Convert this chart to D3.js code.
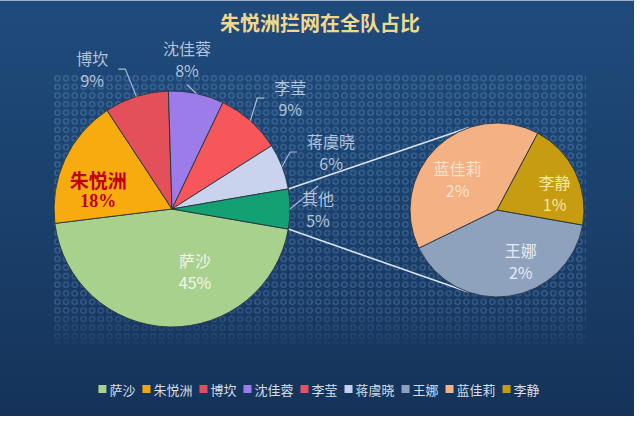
<!DOCTYPE html>
<html><head><meta charset="utf-8">
<script src="https://cdn.jsdelivr.net/npm/d3@7"></script>
<style>html,body{margin:0;padding:0;background:#fff;} svg{display:block}</style>
</head><body>
<svg id="chart" width="640" height="421"></svg>
<script>
// ---------- data ----------
const titleText = "朱悦洲拦网在全队占比";
const mainNames = ["萨沙","朱悦洲","博坎","沈佳蓉","李莹","蒋虞晓"];
const mainValues = [45.4, 17.7, 8.8, 7.6, 8.9, 6.3];
const otherName = "其他";
const otherNames = ["王娜","蓝佳莉","李静"];
const otherValues = [2.18, 2.18, 1.09];
const legendNames = mainNames.concat(otherNames);

// ---------- styles / layout ----------
const W = 640, H = 421;
const FONT = "'Noto Sans CJK SC','Noto Sans',sans-serif";
const mainOuter = ["#a9d18e","#f7ab0e","#e3505a","#9b7ce8","#f7565b","#c9d3ee","#13a073"];
const mainInner = ["#a9d18e","#d4912c","#c44e5c","#b25ec4","#bf509a","#c1c2ec","#13a073"];
const secColors = ["#8fa2bd","#f4b183","#c89c10"];
const legendColors = ["#a9d18e","#f2a516","#e0505a","#9b7ce8","#e8506a","#c5d0ec","#8fa2bd","#f4b183","#c89c10"];
const mainC = [172, 209], mainR = 118;
const secC = [497, 210], secR = 87;
const secStartDeg = 100;
// label placement: [angle offset from slice mid (deg), distance in radius units, kind]
const mainLabelPos = [
  [-21.8, 0.56, "in"], [-10.4, 0.645, "hero"], [-12.1, 1.365, "elbow"],
  [-6.2, 1.28, "short"], [5.3, 1.373, "elbow"], [1.4, 1.432, "elbow"], [0, 1.237, "top"]
];
const secLabelPos = [[-17, 0.645], [-8, 0.575], [9.6, 0.69]];
const secLabelColors = ["#e4e9f1","#fbe3d2","#f7e7a0"];

const svg = d3.select("#chart");
const defs = svg.append("defs");

// background
const bg = defs.append("linearGradient").attr("id","bg").attr("x1",0).attr("y1",0).attr("x2",0).attr("y2",1);
bg.append("stop").attr("offset",0).attr("stop-color","#1f4b7c");
bg.append("stop").attr("offset",0.55).attr("stop-color","#1a3f6a");
bg.append("stop").attr("offset",1).attr("stop-color","#153359");
svg.append("rect").attr("x",0).attr("y",0).attr("width",634).attr("height",416).attr("fill","url(#bg)");
svg.append("line").attr("x1",0).attr("x2",634).attr("y1",0.5).attr("y2",0.5).attr("stroke","#9fb0c4").attr("stroke-width",1);

// dotted pattern
const pat = defs.append("pattern").attr("id","dots").attr("patternUnits","userSpaceOnUse")
  .attr("width",8.7).attr("height",8.6).attr("x",53).attr("y",74);
pat.append("circle").attr("cx",4.35).attr("cy",4.3).attr("r",2.6).attr("fill","none")
  .attr("stroke","#6690c4").attr("stroke-opacity",0.6).attr("stroke-width",1);
const fade = defs.append("linearGradient").attr("id","fade").attr("x1",0).attr("y1",0).attr("x2",0).attr("y2",1);
fade.append("stop").attr("offset",0).attr("stop-color","#fff").attr("stop-opacity",1);
fade.append("stop").attr("offset",0.85).attr("stop-color","#fff").attr("stop-opacity",0.9);
fade.append("stop").attr("offset",1).attr("stop-color","#fff").attr("stop-opacity",0.25);
const mask = defs.append("mask").attr("id","dmask");
mask.append("rect").attr("x",53).attr("y",74).attr("width",533).attr("height",270).attr("fill","url(#fade)");
svg.append("rect").attr("x",53).attr("y",74).attr("width",533).attr("height",270)
  .attr("fill","url(#dots)").attr("mask","url(#dmask)");

// title
svg.append("text").attr("x",320).attr("y",22).attr("text-anchor","middle").attr("dominant-baseline","central")
  .attr("font-family",FONT).attr("font-size",20).attr("font-weight",700).attr("fill","#f1d98c").text(titleText);

// ---------- pies ----------
const otherTotal = d3.sum(otherValues);
const mainData = mainValues.concat([otherTotal]);
const mainLabels = mainNames.concat([otherName]);
const total = d3.sum(mainData);
const pct = d3.format(".0%");
const start = Math.PI/2 + (otherTotal/total)*Math.PI; // 其他 centred on 3 o'clock
const mainArcs = d3.pie().sort(null).startAngle(start).endAngle(start + 2*Math.PI)(mainData);
const secArcs = d3.pie().sort(null).startAngle(secStartDeg*Math.PI/180).endAngle(secStartDeg*Math.PI/180 + 2*Math.PI)(otherValues);

const polar = (c, a, r) => [c[0] + Math.sin(a)*r, c[1] - Math.cos(a)*r];

// connector (series) lines: tangents from 其他 corners to secondary pie
const oArc = mainArcs[mainArcs.length-1];
function tangent(P, sign) {
  const dx = secC[0]-P[0], dy = secC[1]-P[1];
  const d = Math.hypot(dx, dy), th = Math.atan2(dy, dx), al = Math.asin(secR/d), L = Math.sqrt(d*d - secR*secR);
  const a = th + sign*al;
  return [P[0] + L*Math.cos(a), P[1] + L*Math.sin(a)];
}
const P1 = polar(mainC, oArc.startAngle, mainR), P2 = polar(mainC, oArc.endAngle, mainR);
[[P1, tangent(P1, -1)], [P2, tangent(P2, 1)]].forEach(([a,b]) => {
  svg.append("line").attr("x1",a[0]).attr("y1",a[1]).attr("x2",b[0]).attr("y2",b[1])
    .attr("stroke","#d8e3f0").attr("stroke-width",1.6);
});

// gradients for main slices
mainData.forEach((v,i) => {
  const g = defs.append("radialGradient").attr("id","mg"+i).attr("gradientUnits","userSpaceOnUse")
    .attr("cx",mainC[0]).attr("cy",mainC[1]).attr("r",mainR);
  g.append("stop").attr("offset",0.05).attr("stop-color",mainInner[i]);
  g.append("stop").attr("offset",1).attr("stop-color",mainOuter[i]);
});

const arcMain = d3.arc().innerRadius(0).outerRadius(mainR);
const arcSec = d3.arc().innerRadius(0).outerRadius(secR);

svg.append("g").attr("transform",`translate(${mainC})`).selectAll("path").data(mainArcs).join("path")
  .attr("d",arcMain).attr("fill",(d,i)=>`url(#mg${i})`).attr("stroke","#253540").attr("stroke-width",0.9).attr("stroke-linejoin","round");
svg.append("g").attr("transform",`translate(${secC})`).selectAll("path").data(secArcs).join("path")
  .attr("d",arcSec).attr("fill",(d,i)=>secColors[i]).attr("stroke","#253540").attr("stroke-width",0.9).attr("stroke-linejoin","round");

// ---------- labels ----------
const lab = svg.append("g").attr("font-family",FONT);
function twoLine(x, y, t1, t2, opts) {
  const g = lab.append("g");
  const a = g.append("text").attr("x",x).attr("y",y-11).attr("text-anchor","middle").attr("dominant-baseline","central")
    .attr("font-size",opts.size||16).attr("fill",opts.color).text(t1);
  const b = g.append("text").attr("x",x).attr("y",y+11).attr("text-anchor","middle").attr("dominant-baseline","central")
    .attr("font-size",opts.size2||opts.size||15).attr("fill",opts.color).text(t2);
  if (opts.weight) { a.attr("font-weight",opts.weight); b.attr("font-weight",opts.weight); }
  if (opts.font2) b.attr("font-family",opts.font2);
  return a;
}
const outerColor = "#b3c3d9";
mainArcs.forEach((d,i) => {
  const mid = (d.startAngle + d.endAngle)/2;
  const [off, k, kind] = mainLabelPos[i];
  const [x,y] = polar(mainC, mid + off*Math.PI/180, mainR*k);
  const p = pct(d.value/total);
  let t;
  if (kind === "in") t = twoLine(x, y, mainLabels[i], p, {color:"#f1f5ee", size:16});
  else if (kind === "hero") t = twoLine(x, y, mainLabels[i], p, {color:"#c00000", size:19, size2:18, weight:700, font2:"'Liberation Serif',serif"});
  else t = twoLine(x, y, mainLabels[i], p, {color:outerColor, size:16});
  const S = polar(mainC, mid, mainR);
  let pts = null;
  if (kind === "elbow") {
    const hw = t.node().getComputedTextLength()/2;
    const side = x < S[0] ? 1 : -1;
    pts = [S, [x + side*(hw+17), y], [x + side*(hw+10), y]];
  } else if (kind === "short") {
    pts = [S, [x, y + 26]];
  } else if (kind === "top") {
    pts = [S, [x, y - 23]];
  }
  if (pts) svg.append("path").attr("d", d3.line()(pts)).attr("fill","none").attr("stroke","#a9b9cf").attr("stroke-width",1.2);
});
secArcs.forEach((d,i) => {
  const mid = (d.startAngle + d.endAngle)/2;
  const [off,k] = secLabelPos[i];
  const [x,y] = polar(secC, mid + off*Math.PI/180, secR*k);
  twoLine(x, y, otherNames[i], pct(d.value/total), {color:secLabelColors[i], size:16});
});

// ---------- legend ----------
const leg = svg.append("g").attr("font-family",FONT).attr("font-size",13);
const items = legendNames.map((n,i) => {
  const g = leg.append("g");
  g.append("rect").attr("width",8).attr("height",8).attr("y",-4).attr("fill",legendColors[i]);
  const t = g.append("text").attr("x",11).attr("dominant-baseline","central").attr("fill","#d6deea").text(n);
  return {g, w: 11 + t.node().getComputedTextLength()};
});
const gap = 7;
const totalW = d3.sum(items, d=>d.w) + gap*(items.length-1);
let cx = 319 - totalW/2;
items.forEach(it => { it.g.attr("transform",`translate(${cx},389)`); cx += it.w + gap; });
</script>
</body></html>
